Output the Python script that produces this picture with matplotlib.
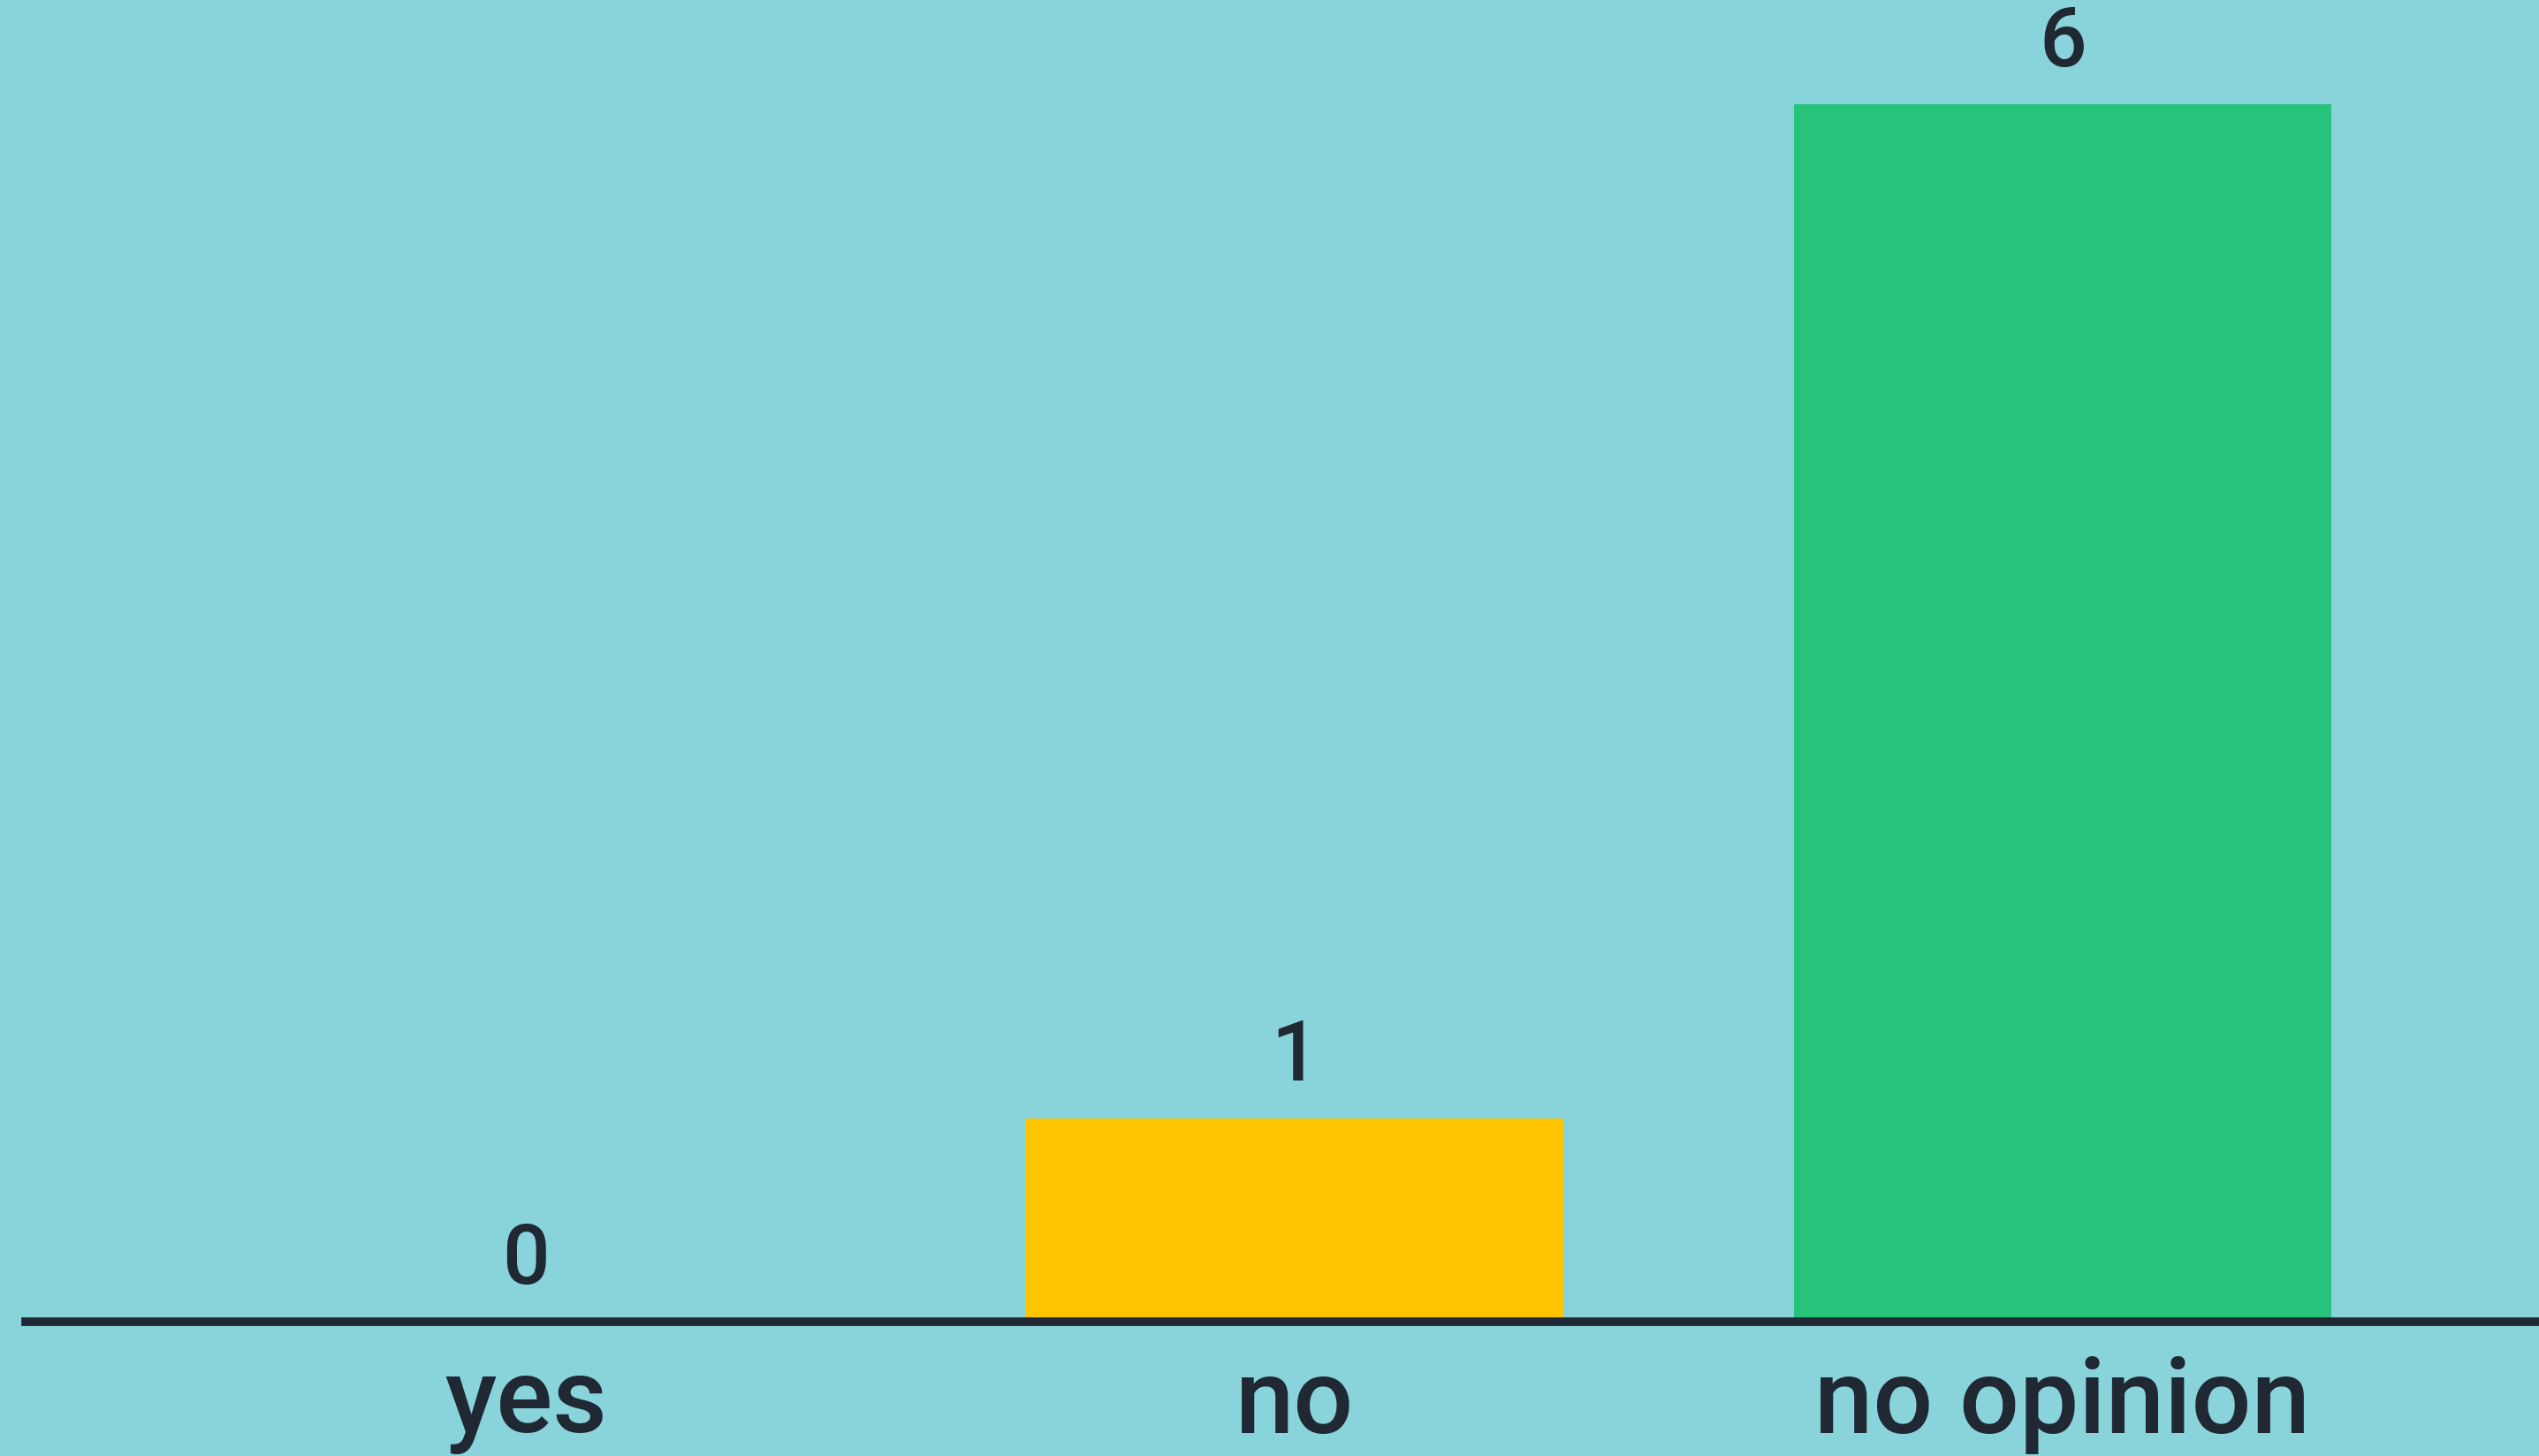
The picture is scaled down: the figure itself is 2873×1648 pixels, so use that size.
import matplotlib
matplotlib.use("Agg")
import matplotlib.pyplot as plt

# data
categories = ["yes", "no", "no opinion"]
votes = [0, 1, 6]
bar_colors = ["#FFC400", "#FFC400", "#28C37B"]

# style
bg_color = "#89D3DB"
ink = "#1F2833"
plt.rcParams["font.family"] = ["Roboto", "DejaVu Sans"]

fig = plt.figure(figsize=(28.73, 16.49), dpi=100)
fig.patch.set_facecolor(bg_color)
ax = fig.add_axes([0.0102, 0.0922, 0.9898, 0.9078])
ax.set_facecolor(bg_color)

x = list(range(len(categories)))
bars = ax.bar(x, votes, width=0.70, color=bar_colors)
ax.bar_label(bars, labels=[str(v) for v in votes], padding=18,
             fontsize=68, color=ink, fontweight="medium")

ax.set_xlim(-0.651, 2.62)
ax.set_ylim(0, 6.52)

for side in ["top", "right", "left"]:
    ax.spines[side].set_visible(False)
ax.spines["bottom"].set_color(ink)
ax.spines["bottom"].set_linewidth(7)

ax.set_yticks([])
ax.set_xticks(x)
ax.set_xticklabels(categories, fontsize=86, color=ink, fontweight="medium")
ax.tick_params(axis="x", length=0, pad=26)

fig.savefig("out.png", dpi=100, facecolor=bg_color)
